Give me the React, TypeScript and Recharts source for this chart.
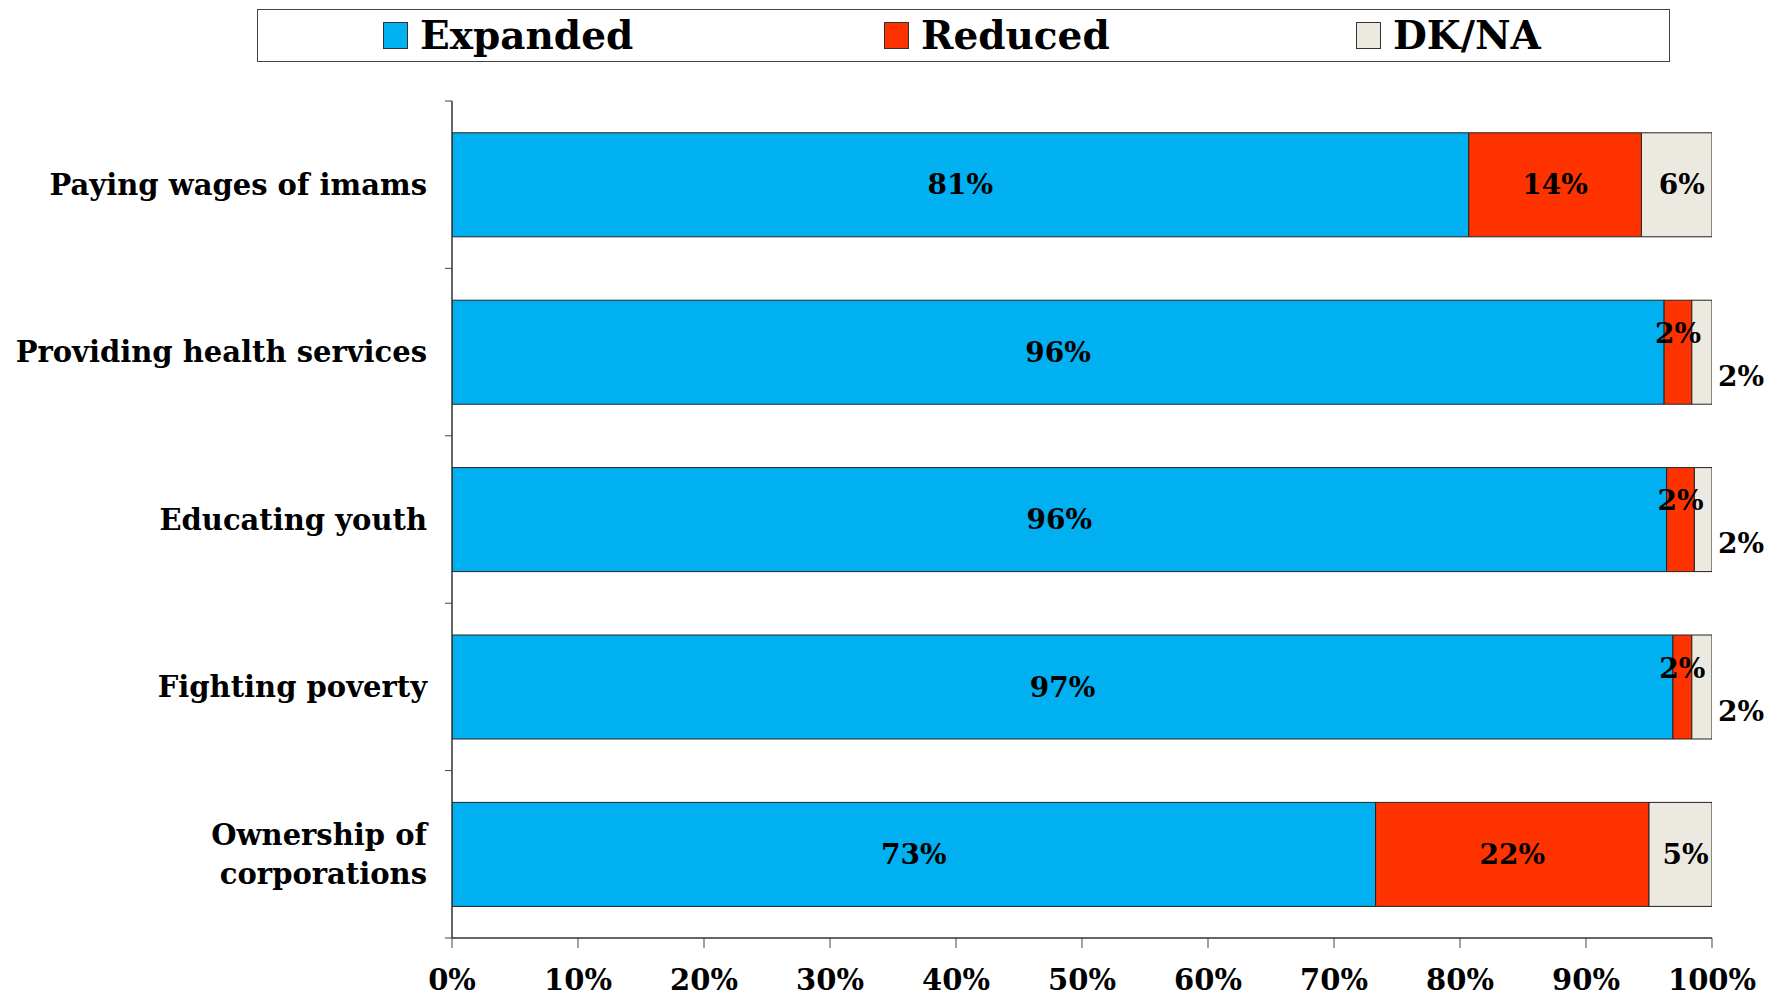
import React from 'react';
import { BarChart, Bar, XAxis, YAxis, LabelList } from 'recharts';

const categories = [
  'Paying wages of imams',
  'Providing health services',
  'Educating youth',
  'Fighting poverty',
  'Ownership of\ncorporations',
];
const expanded = [80.7, 96.2, 96.4, 96.9, 73.3];
const reduced = [13.7, 2.2, 2.2, 1.5, 21.7];
const dkna = [5.6, 1.6, 1.8, 1.6, 5.0];
const xTicks = [0, 10, 20, 30, 40, 50, 60, 70, 80, 90, 100];

const data = categories.map((name, i) => ({
  name,
  expanded: expanded[i],
  reduced: reduced[i],
  dkna: dkna[i],
}));

const FONT = '"DejaVu Serif", serif';
const BLUE = '#00B0F0';
const RED = '#FF3300';
const BEIGE = '#ECEAE0';
const STROKE = '#222';

const W = 1767;
const H = 997;
const M = { top: 101, right: 55, bottom: 0, left: 0 };
const Y_W = 452;
const X_H = 59;
const BAND = (H - M.top - M.bottom - X_H) / categories.length;

const fmt = (v: number) => `${Math.round(v)}%`;

const YTick = (props: any) => {
  const { y, payload, index } = props;
  const lines = String(payload.value).split('\n');
  const lh = 39;
  const axisX = Y_W;
  return (
    <g>
      <line x1={axisX - 7} x2={axisX} y1={y - BAND / 2} y2={y - BAND / 2} stroke="#444" strokeWidth={1} />
      {index === categories.length - 1 && (
        <line x1={axisX - 7} x2={axisX} y1={y + BAND / 2} y2={y + BAND / 2} stroke="#444" strokeWidth={1} />
      )}
      <text
        x={axisX - 25}
        y={y - ((lines.length - 1) * lh) / 2}
        textAnchor="end"
        dominantBaseline="central"
        fontFamily={FONT}
        fontWeight="bold"
        fontSize={29}
        fill="#000"
      >
        {lines.map((l, i) => (
          <tspan key={i} x={axisX - 25} dy={i === 0 ? 0 : lh}>
            {l}
          </tspan>
        ))}
      </text>
    </g>
  );
};

const makeLabel = (kind: 'center' | 'reduced' | 'dk') => (props: any) => {
  const { x, y, width, height, value } = props;
  const v = Number(value);
  let lx = x + width / 2;
  let ly = y + height / 2;
  if (kind === 'reduced' && v < 5) {
    ly -= 19;
  }
  if (kind === 'dk') {
    if (v < 5) {
      lx = x + width + 29;
      ly += 24;
    } else {
      lx += 5;
    }
  }
  return (
    <text
      x={lx}
      y={ly}
      textAnchor="middle"
      dominantBaseline="central"
      fontFamily={FONT}
      fontWeight="bold"
      fontSize={28}
      fill="#000"
    >
      {fmt(v)}
    </text>
  );
};

const legendItems = [
  { label: 'Expanded', color: BLUE, left: 383 },
  { label: 'Reduced', color: RED, left: 884 },
  { label: 'DK/NA', color: BEIGE, left: 1356 },
];

export default function App() {
  return (
    <div style={{ position: 'absolute', left: 0, top: 0, width: W, height: H, background: '#fff' }}>
      <div
        style={{
          position: 'absolute',
          left: 257,
          top: 9,
          width: 1413,
          height: 53,
          border: '1px solid #444',
          boxSizing: 'border-box',
        }}
      />
      {legendItems.map((it) => (
        <div key={it.label} style={{ position: 'absolute', left: it.left, top: 9, height: 53, display: 'flex', alignItems: 'center' }}>
          <div style={{ width: 25, height: 27, background: it.color, border: '1px solid #333', boxSizing: 'border-box', marginRight: 12 }} />
          <span style={{ fontFamily: FONT, fontWeight: 'bold', fontSize: 39, color: '#000', lineHeight: '53px' }}>{it.label}</span>
        </div>
      ))}
      <BarChart
        width={W}
        height={H}
        data={data}
        layout="vertical"
        margin={M}
        barCategoryGap="19%"
      >
        <XAxis
          type="number"
          domain={[0, 100]}
          ticks={xTicks}
          interval={0}
          tickFormatter={(v: number) => `${v}%`}
          height={X_H}
          tickSize={10}
          tickMargin={21}
          axisLine={{ stroke: '#333', strokeWidth: 1.5 }}
          tickLine={{ stroke: '#444' }}
          tick={{ fontFamily: FONT, fontWeight: 'bold', fontSize: 29, fill: '#000' }}
          allowDataOverflow
        />
        <YAxis
          type="category"
          dataKey="name"
          width={Y_W}
          tickLine={false}
          axisLine={{ stroke: '#333', strokeWidth: 1.5 }}
          tick={<YTick />}
          interval={0}
        />
        <Bar dataKey="expanded" stackId="a" fill={BLUE} stroke={STROKE} strokeWidth={1} isAnimationActive={false}>
          <LabelList dataKey="expanded" content={makeLabel('center')} />
        </Bar>
        <Bar dataKey="reduced" stackId="a" fill={RED} stroke={STROKE} strokeWidth={1} isAnimationActive={false}>
          <LabelList dataKey="reduced" content={makeLabel('reduced')} />
        </Bar>
        <Bar dataKey="dkna" stackId="a" fill={BEIGE} stroke={STROKE} strokeWidth={1} isAnimationActive={false}>
          <LabelList dataKey="dkna" content={makeLabel('dk')} />
        </Bar>
      </BarChart>
    </div>
  );
}
